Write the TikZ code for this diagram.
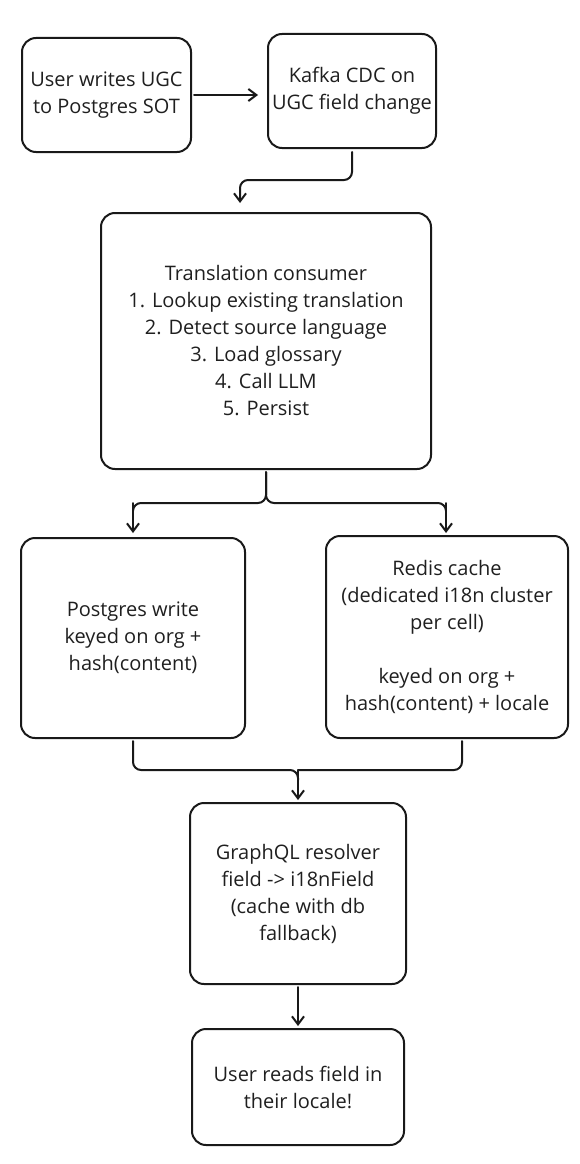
\documentclass[tikz,border=0pt]{standalone}
\usepackage{fontspec}
\setmainfont{Open Sans}
\usetikzlibrary{arrows.meta}
\begin{document}
\begin{tikzpicture}[x=1pt,y=-1pt,
  box/.style={draw=black!90, line width=2pt, rounded corners=14pt, align=center,
    font=\fontsize{20}{27}\selectfont, text=black!88, inner sep=0pt},
  conn/.style={draw=black!90, line width=2pt, rounded corners=8pt, line cap=round,
    -{Straight Barb[length=8pt,width=12pt,line width=2pt]}},
  plain/.style={draw=black!90, line width=2pt, rounded corners=8pt, line cap=round}]
\useasboundingbox (0,0) rectangle (580,1164);
\node[box, minimum width=169pt, minimum height=114pt] (b1) at (106.5,95) {User writes UGC\\to Postgres SOT};
\node[box, minimum width=168pt, minimum height=114pt] (b2) at (352,91) {Kafka CDC on\\UGC field change};
\node[box, minimum width=330pt, minimum height=256pt] (b3) at (266,341) {Translation consumer\\1. Lookup existing translation\\2. Detect source language\\3. Load glossary\\4. Call LLM\\5. Persist};
\node[box, minimum width=224pt, minimum height=200pt] (b4) at (133,638) {Postgres write\\keyed on org +\\hash(content)};
\node[box, minimum width=242pt, minimum height=202pt] (b5) at (447,637) {Redis cache\\(dedicated i18n cluster\\per cell)\\[27pt]keyed on org +\\hash(content) + locale};
\node[box, minimum width=216pt, minimum height=181pt] (b6) at (298,893.5) {GraphQL resolver\\field -> i18nField\\(cache with db\\fallback)};
\node[box, minimum width=212pt, minimum height=116pt] (b7) at (298,1087) {User reads field in\\their locale!};
% connectors
\coordinate (a1) at (194,95);
\coordinate (a2) at (258,95);
\draw[conn] (a1) -- (a2);
\coordinate (k1) at (352,152);
\coordinate (k2) at (240,203);
\draw[conn] (k1) -- (352,180) -- (240,180) -- (k2);
\coordinate (t1) at (266,472);
\coordinate (s) at (266,503);
\coordinate (l2) at (133,533);
\coordinate (r2) at (446,533);
\draw[plain] (t1) -- (s) -- (133,503) -- (133,511);
\draw[conn] (133,503) -- (l2);
\draw[plain] (t1) -- (s) -- (446,503) -- (446,511);
\draw[conn] (446,503) -- (r2);
\coordinate (p1) at (133,741);
\coordinate (r1) at (462,741);
\coordinate (m) at (298,770);
\coordinate (g) at (298,800);
\draw[plain] (p1) -- (133,770) -- (m) -- (298,780);
\draw[plain] (r1) -- (462,770) -- (m);
\draw[conn] (m) -- (g);
\coordinate (c1) at (298,987);
\coordinate (c2) at (298,1026);
\draw[conn] (c1) -- (c2);
\end{tikzpicture}
\end{document}
